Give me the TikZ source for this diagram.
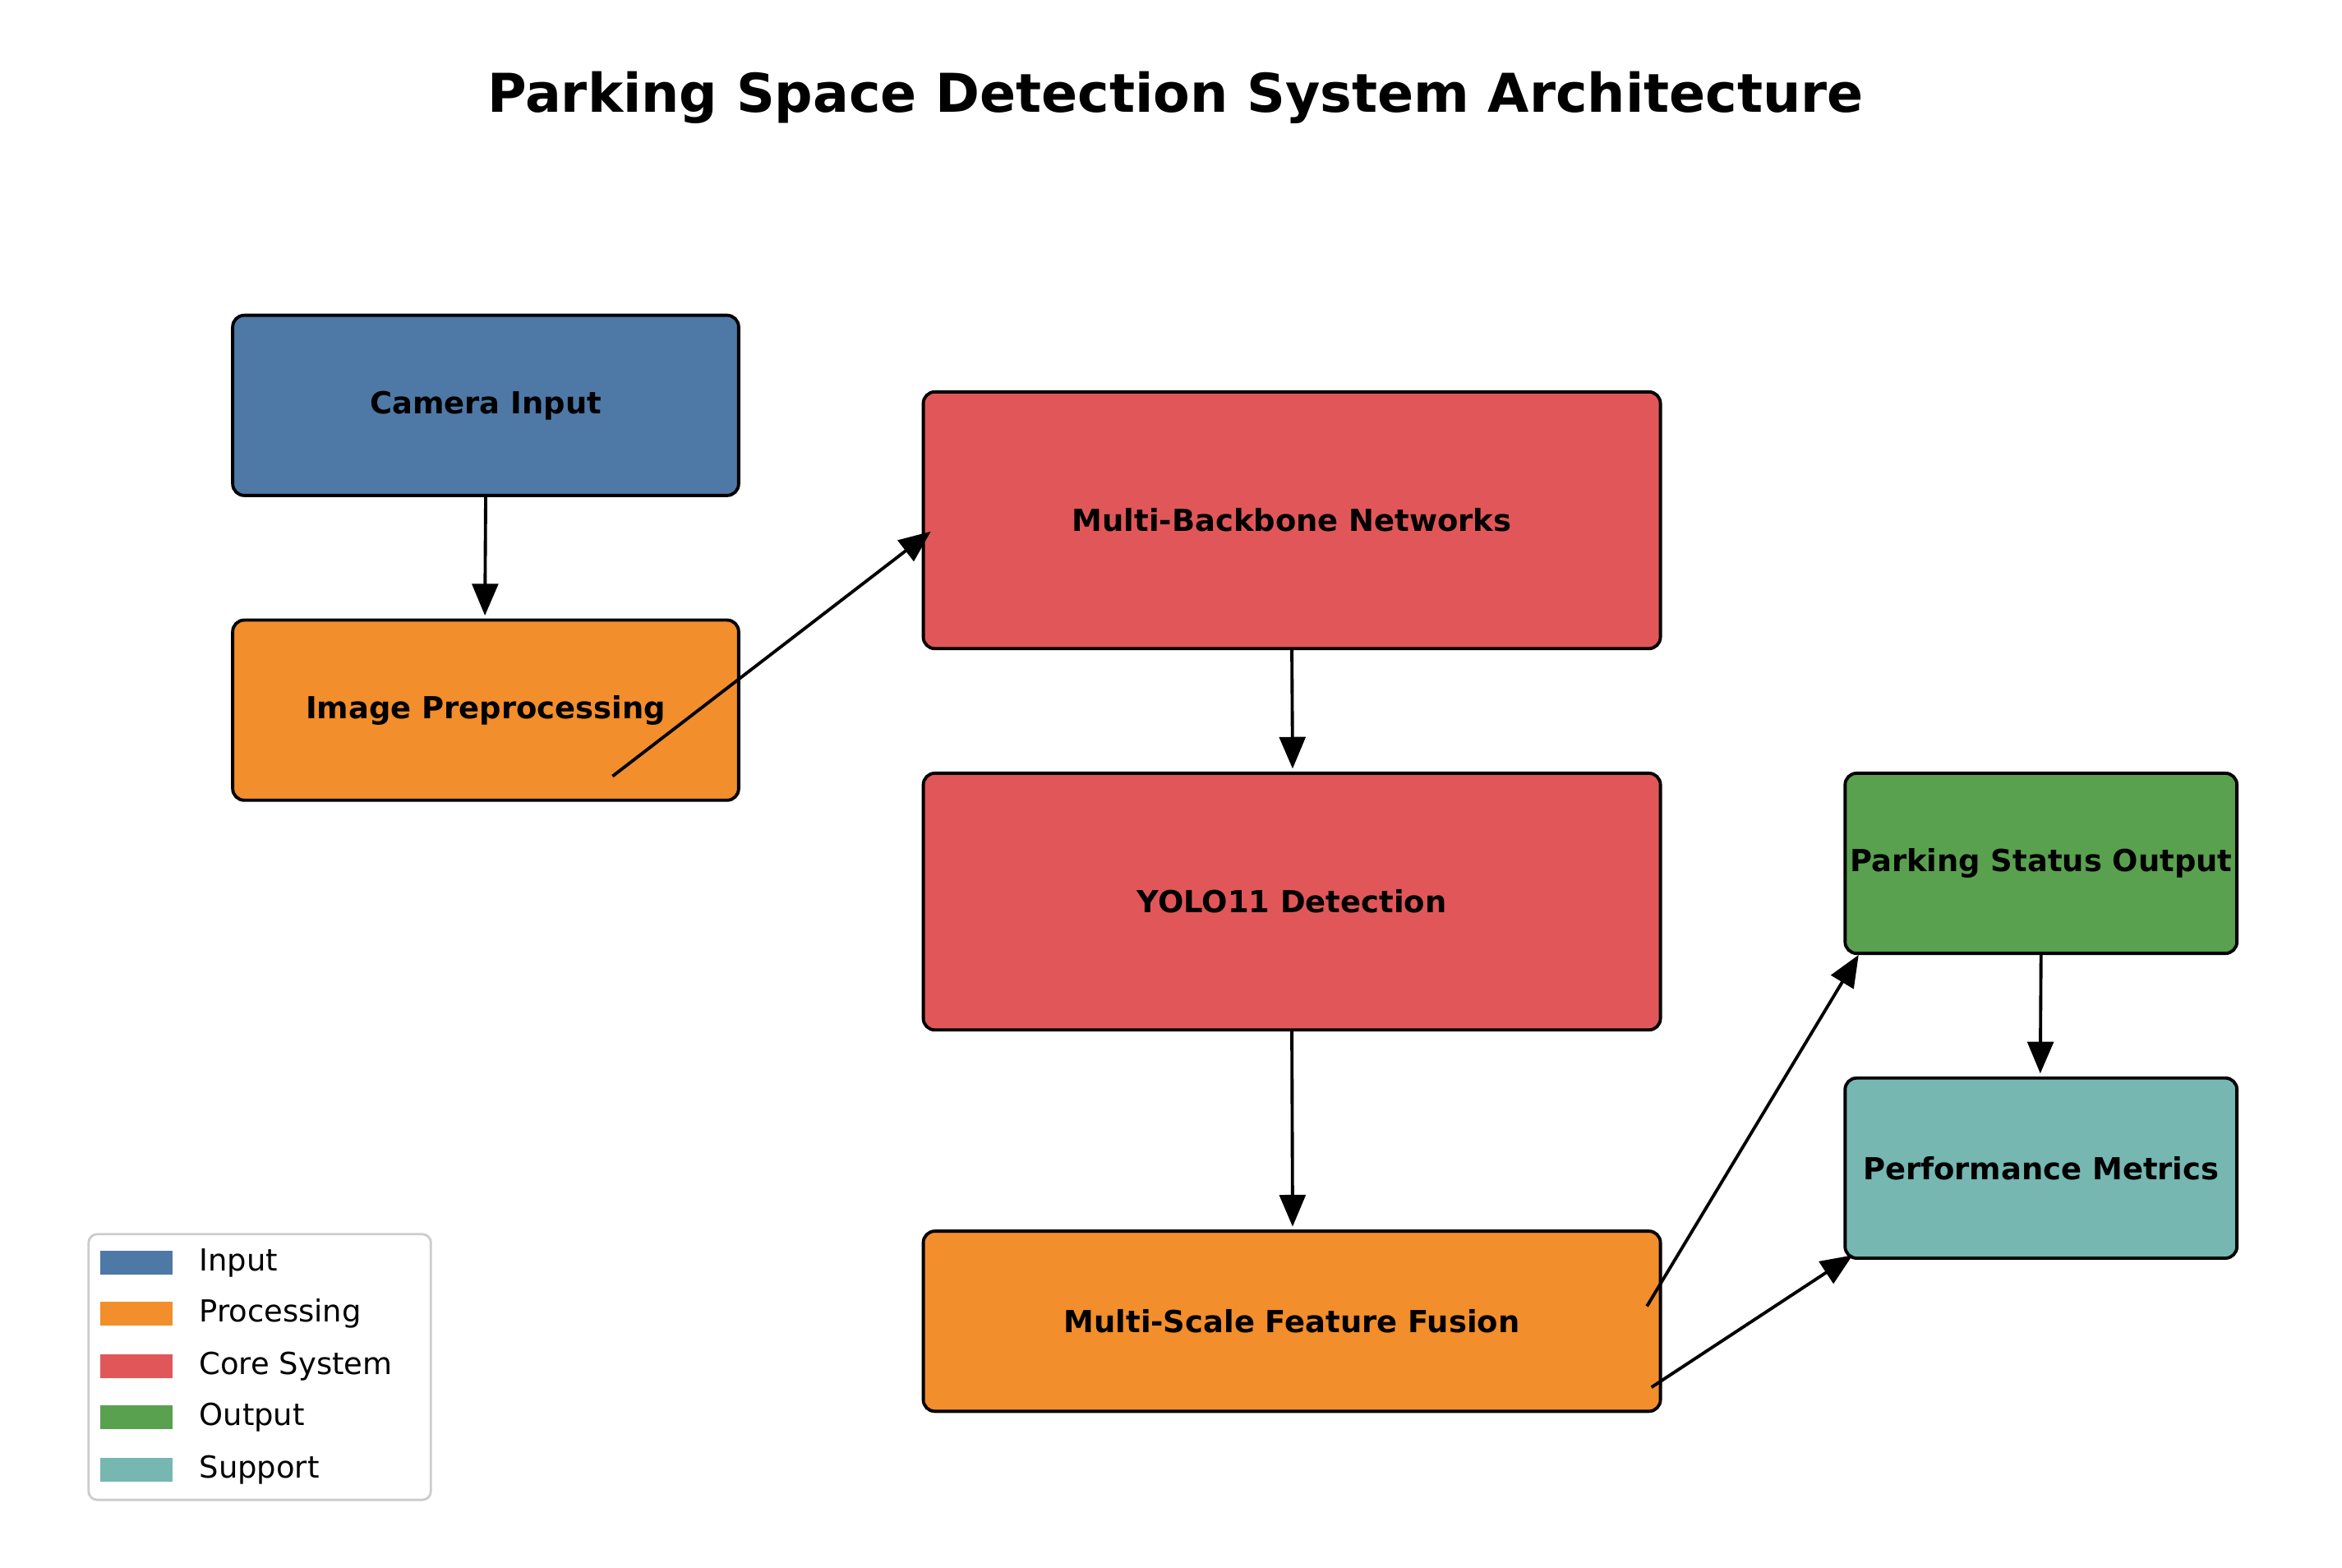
\documentclass[tikz,border=0pt]{standalone}
\usepackage{fontspec}
\setmainfont{DejaVu Sans}
\usetikzlibrary{arrows.meta}
\definecolor{cin}{HTML}{4E79A7}
\definecolor{cpr}{HTML}{F28E2B}
\definecolor{ccore}{HTML}{E15759}
\definecolor{cout}{HTML}{59A14F}
\definecolor{csup}{HTML}{76B7B2}
\begin{document}
\begin{tikzpicture}[x=0.018269cm,y=-0.018269cm,
  box/.style={draw=black,line width=1.1pt,rounded corners=4pt,font=\bfseries\fontsize{10.5}{12}\selectfont,inner sep=0pt},
  arr/.style={line width=1.1pt,-{Triangle[length=11pt,width=9pt]}},
  leg/.style={anchor=west,font=\fontsize{10.5}{12}\selectfont}]
\useasboundingbox (0,0) rectangle (1560,1044);
\node[font=\bfseries\fontsize{18.5}{22}\selectfont] (title) at (783,65) {Parking Space Detection System Architecture};
\node[box,fill=cin,minimum width=337*0.018269cm,minimum height=120*0.018269cm] (cam) at (323.5,270) {Camera Input};
\node[box,fill=cpr,minimum width=337*0.018269cm,minimum height=120*0.018269cm] (pre) at (323.5,473) {Image Preprocessing};
\node[box,fill=ccore,minimum width=491*0.018269cm,minimum height=171*0.018269cm] (mb) at (860.5,346.5) {Multi-Backbone Networks};
\node[box,fill=ccore,minimum width=491*0.018269cm,minimum height=171*0.018269cm] (yolo) at (860.5,600.5) {YOLO11 Detection};
\node[box,fill=cpr,minimum width=491*0.018269cm,minimum height=120*0.018269cm] (fus) at (860.5,880) {Multi-Scale Feature Fusion};
\node[box,fill=cout,minimum width=261*0.018269cm,minimum height=120*0.018269cm] (park) at (1359.5,575) {Parking Status Output};
\node[box,fill=csup,minimum width=261*0.018269cm,minimum height=120*0.018269cm] (perf) at (1359.5,778) {Performance Metrics};
\coordinate (p1) at (408,517); \coordinate (p2) at (620,354);
\coordinate (f1) at (1097,870); \coordinate (f1e) at (1238,636);
\coordinate (f2) at (1100,924); \coordinate (f2e) at (1234,836);
\coordinate (c1) at (323,410); \coordinate (m1) at (861,512);
\coordinate (y1) at (861,817); \coordinate (k1) at (1359,715);
\draw[arr] (cam.south) -- (c1);
\draw[arr] (p1) -- (p2);
\draw[arr] (mb.south) -- (m1);
\draw[arr] (yolo.south) -- (y1);
\draw[arr] (f1) -- (f1e);
\draw[arr] (f2) -- (f2e);
\draw[arr] (park.south) -- (k1);
\node[draw=black!20,line width=0.8pt,rounded corners=3pt,minimum width=228*0.018269cm,minimum height=177*0.018269cm] (legbox) at (173,910.5) {};
\foreach \c/\t/\yy/\n in {cin/Input/841/a,cpr/Processing/875/b,ccore/Core System/910/c,cout/Output/944/d,csup/Support/979/e}{
  \fill[\c] (67,\yy-8) rectangle (115,\yy+8);
  \node[leg] (l\n) at (126,\yy) {\t};
}
\end{tikzpicture}
\end{document}
